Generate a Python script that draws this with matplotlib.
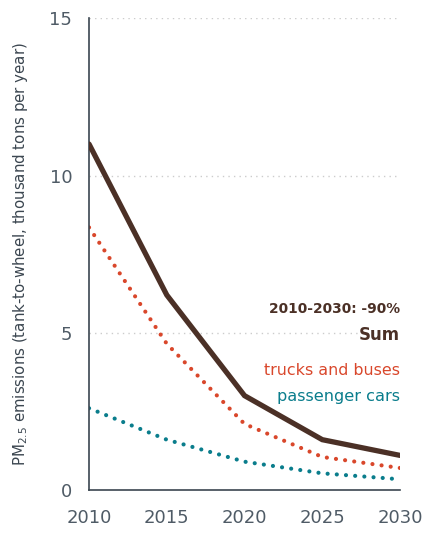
import numpy as np
import matplotlib
matplotlib.use('Agg')
import matplotlib.pyplot as plt

years = [2010, 2015, 2020, 2025, 2030]
total = [11.0, 6.2, 3.0, 1.6, 1.1]
trucks_buses = [8.35, 4.65, 2.1, 1.05, 0.70]
passenger_cars = [2.6, 1.6, 0.9, 0.53, 0.34]

brown = '#4b3026'
red = '#d9472b'
teal = '#0a7d8c'
axis_col = '#3b4650'
tick_col = '#4f5b66'

plt.rcParams['font.family'] = ['DejaVu Sans']

fig = plt.figure(figsize=(4.26, 5.33), dpi=100)
ax = fig.add_axes([0.209, 0.0807, 0.73, 0.885])

# dotted gridlines
for v in [5, 10, 15]:
    ax.axhline(v, color='#cccccc', lw=1.0, ls=(0, (1, 3)), zorder=0)

dot = (0, (0.01, 2.2))
ax.plot(years, passenger_cars, color=teal, lw=3.0, ls=dot,
        dash_capstyle='round', zorder=2)
ax.plot(years, trucks_buses, color=red, lw=3.0, ls=dot,
        dash_capstyle='round', zorder=2)
ax.plot(years, total, color=brown, lw=3.8, solid_capstyle='round',
        solid_joinstyle='miter', zorder=3)

ax.set_xlim(2010, 2030)
ax.set_ylim(0, 15)
ax.set_xticks(years)
ax.set_yticks([0, 5, 10, 15])
ax.tick_params(length=0, labelsize=13, colors=tick_col)
ax.tick_params(axis='x', pad=14)
ax.tick_params(axis='y', pad=12)

for s in ['top', 'right']:
    ax.spines[s].set_visible(False)
for s in ['left', 'bottom']:
    ax.spines[s].set_color(axis_col)
    ax.spines[s].set_linewidth(1.2)

ax.set_ylabel('PM$_{2.5}$ emissions (tank-to-wheel, thousand tons per year)',
              fontsize=10.8, color='#3b4650')
ax.yaxis.set_label_coords(-0.19, 0.5)

ax.text(2030, 5.75, '2010-2030: -90%', ha='right', va='center',
        fontsize=9.9, fontweight='bold', color=brown)
ax.text(2030, 4.92, 'Sum', ha='right', va='center',
        fontsize=12, fontweight='bold', color=brown)
ax.text(2030, 3.8, 'trucks and buses', ha='right', va='center',
        fontsize=11.4, color=red)
ax.text(2030, 2.98, 'passenger cars', ha='right', va='center',
        fontsize=11.6, color=teal)

fig.savefig('out.png', dpi=100)
